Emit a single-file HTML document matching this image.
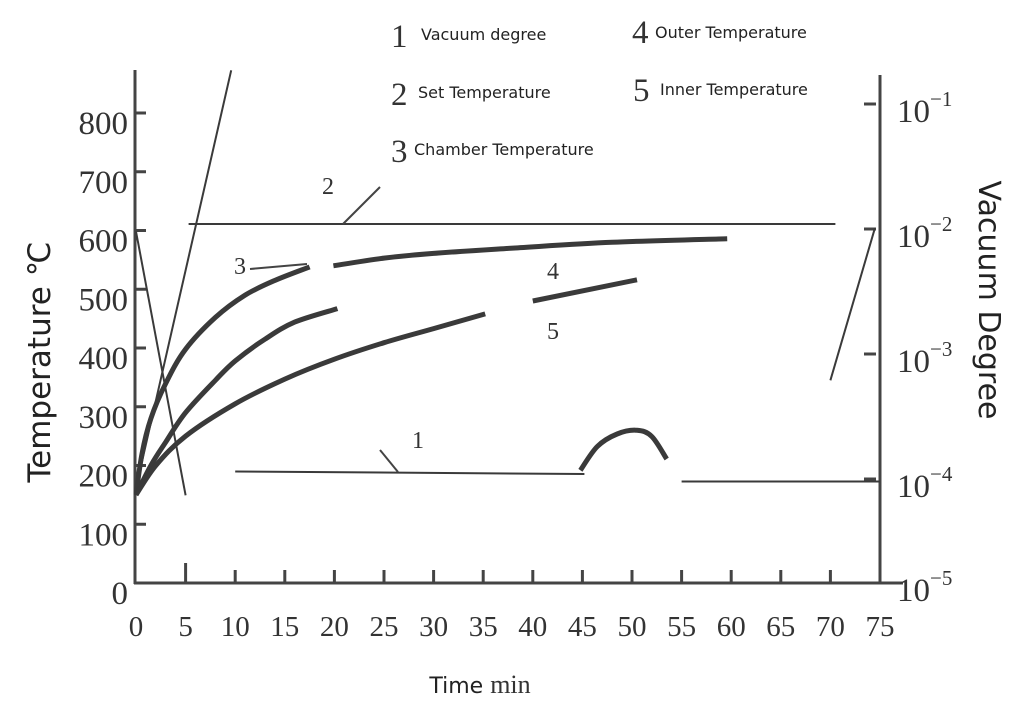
<!DOCTYPE html>
<html><head><meta charset="utf-8"><style>
body{margin:0;background:#fff}
svg{display:block}
.serif{font-family:"Liberation Serif",serif;fill:#333}
.sans{font-family:"DejaVu Sans","Liberation Sans",sans-serif;fill:#222}
</style></head><body>
<svg id="chart" width="1024" height="706" viewBox="0 0 1024 706">
<g id="axes"></g>
<g id="series"></g>
<g id="labels">
<text class="serif" x="391" y="47" font-size="33">1</text>
<text class="sans" x="421" y="40" font-size="16">Vacuum degree</text>
<text class="serif" x="391" y="105" font-size="33">2</text>
<text class="sans" x="418" y="98" font-size="16">Set Temperature</text>
<text class="serif" x="391" y="162" font-size="33">3</text>
<text class="sans" x="414" y="155" font-size="16">Chamber Temperature</text>
<text class="serif" x="632" y="43" font-size="33">4</text>
<text class="sans" x="655" y="38" font-size="16">Outer Temperature</text>
<text class="serif" x="633" y="101" font-size="33">5</text>
<text class="sans" x="660" y="95" font-size="16">Inner Temperature</text>
<text class="serif" x="322" y="194" font-size="24">2</text>
<line x1="343" y1="224" x2="380" y2="187" stroke="#444" stroke-width="2"/>
<text class="serif" x="234" y="274" font-size="24">3</text>
<line x1="250" y1="269" x2="307" y2="264" stroke="#444" stroke-width="2"/>
<text class="serif" x="547" y="279" font-size="24">4</text>
<text class="serif" x="547" y="339" font-size="24">5</text>
<text class="serif" x="412" y="448" font-size="24">1</text>
<line x1="380" y1="450" x2="398" y2="472" stroke="#444" stroke-width="2"/>
<text class="sans" font-size="31" transform="translate(50,362) rotate(-90)" text-anchor="middle">Temperature  ℃</text>
<text class="sans" font-size="30" transform="translate(979,300) rotate(90)" text-anchor="middle">Vacuum Degree</text>
<text x="480" y="693" text-anchor="middle" font-size="22"><tspan class="sans">Time </tspan><tspan class="serif" font-size="26">min</tspan></text>
</g>
</svg>
<script>
const xTicks=[0,5,10,15,20,25,30,35,40,45,50,55,60,65,70,75];
const yTicks=[0,100,200,300,400,500,600,700,800];
const vacTicks=[-1,-2,-3,-4];
const setTemp=[[5.3,611],[70.5,611]];
const chamberA=[[0,150],[0.6,220],[1.5,280],[3,340],[5,398],[8,452],[11,490],[14,515],[17.5,538]];
const chamberB=[[19.9,540],[25,553],[30,561],[38,570],[48,580],[59.6,586]];
const outerA=[[0,150],[1.5,200],[3,240],[5,290],[8,345],[10,378],[13,415],[16,444],[20.3,467]];
const outerB=[[40,480],[50.5,516]];
const innerA=[[0,150],[2,200],[5,250],[10,305],[15,347],[20,381],[25,409],[30,433],[35.2,458]];
const vacA=[[10,-3.94],[45.2,-3.96]];
const vacArc=[[44.8,-3.93],[46.5,-3.74],[48.5,-3.64],[50.5,-3.61],[52,-3.66],[53.5,-3.84]];
const vacB=[[55,-4.02],[75,-4.02]];
const vacC=[[70,-3.21],[74.5,-1.99]];
const pumpUp=[[0.4,-3.93],[9.6,-0.73]];
const pumpDown=[[0,-2.02],[5,-4.13]];
const NS="http://www.w3.org/2000/svg";
const X=t=>136+t*(744/75);
const Y=v=>583-v*0.5875;
const YL=l=>104+(-1-l)*125;
function mk(tag,attrs,parent,txt){const e=document.createElementNS(NS,tag);for(const k in attrs)e.setAttribute(k,attrs[k]);if(txt!==undefined)e.textContent=txt;parent.appendChild(e);return e;}
const ax=document.getElementById('axes'),sr=document.getElementById('series');
let e;
e=mk('line',{x1:135,y1:70,x2:135,y2:584,stroke:'#444','stroke-width':3},ax);


e=mk('line',{x1:134,y1:583,x2:903,y2:583,stroke:'#444','stroke-width':3},ax);


e=mk('line',{x1:880,y1:75,x2:880,y2:583,stroke:'#444','stroke-width':3},ax);


xTicks.forEach(t=>{
 if(t>0&&t<75){e=mk('line',{x1:X(t),y1:583,x2:X(t),y2:t==5?563:570,stroke:'#444','stroke-width':3},ax);
 
 }
 e=mk('text',{x:X(t),y:636,'text-anchor':'middle','font-size':29,class:'serif'},ax,t);
 
 
});
yTicks.forEach(v=>{
 if(v>0){e=mk('line',{x1:135,y1:Y(v),x2:146,y2:Y(v),stroke:'#444','stroke-width':3},ax);
 
 }
 e=mk('text',{x:128,y:Y(v)+21,'text-anchor':'end','font-size':33,class:'serif'},ax,v);
 
 
});
vacTicks.concat([-5]).forEach(l=>{
 const y=l==-5?583:YL(l);
 if(l!=-5){e=mk('line',{x1:864,y1:y,x2:876,y2:y,stroke:'#444','stroke-width':3},ax);
 
 }
 e=mk('text',{x:897,y:y+18,'font-size':33,class:'serif'},ax);
 
 
 mk('tspan',{},e,'10');
 mk('tspan',{dy:-16,'font-size':21},e,'−'+(-l));
});
function pathD(pts){
 const P=pts.map(p=>[X(p[0]),p[1]]);
 if(P.length<3) return 'M'+P.map(p=>p[0].toFixed(1)+','+p[1].toFixed(1)).join(' L');
 let d='M'+P[0][0].toFixed(1)+','+P[0][1].toFixed(1);
 for(let i=0;i<P.length-1;i++){
  const p0=P[Math.max(0,i-1)],p1=P[i],p2=P[i+1],p3=P[Math.min(P.length-1,i+2)];
  const c1=[p1[0]+(p2[0]-p0[0])/6,p1[1]+(p2[1]-p0[1])/6];
  const c2=[p2[0]-(p3[0]-p1[0])/6,p2[1]-(p3[1]-p1[1])/6];
  d+=' C'+c1.map(v=>v.toFixed(1)).join(',')+' '+c2.map(v=>v.toFixed(1)).join(',')+' '+p2.map(v=>v.toFixed(1)).join(',');
 }
 return d;
}
function line(pts,fy,w,name){
 const mapped=pts.map(p=>[p[0],fy(p[1])]);
 e=mk('path',{d:pathD(mapped),fill:'none',stroke:'#3a3a3a','stroke-width':w,'stroke-linejoin':'round'},sr);
 
 
}
line(setTemp,Y,2,'set-temperature-line');
line(chamberA,Y,5,'chamber-temperature-line');
line(chamberB,Y,5,'chamber-temperature-line-2');
line(outerA,Y,5,'outer-temperature-line');
line(outerB,Y,5,'outer-temperature-line-2');
line(innerA,Y,5,'inner-temperature-line');
line(vacA,YL,2,'vacuum-line');
line(vacArc,YL,5,'vacuum-arc');
line(vacB,YL,2,'vacuum-line-2');
line(vacC,YL,2,'vacuum-line-3');
line(pumpUp,YL,2,'vacuum-rise-line');
line(pumpDown,YL,2,'vacuum-fall-line');
</script>
</body></html>
